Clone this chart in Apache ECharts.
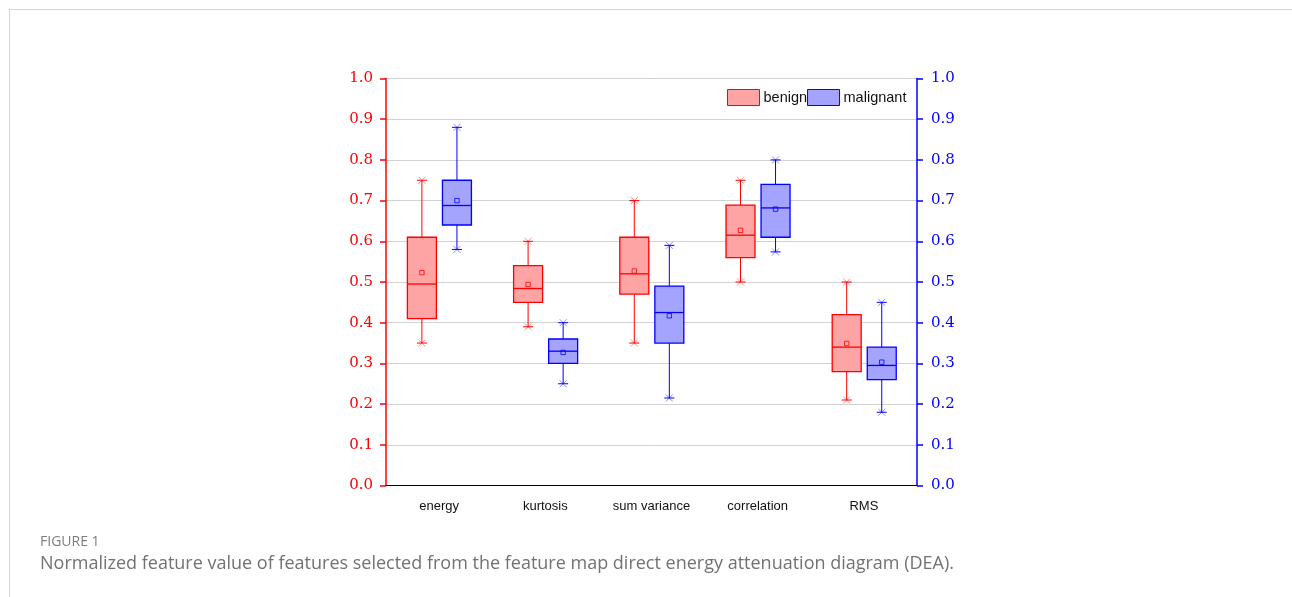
<!DOCTYPE html>
<html>
<head>
<meta charset="utf-8">
<script src="https://cdn.jsdelivr.net/npm/echarts@6/dist/echarts.min.js"></script>
<style>
  html, body { margin: 0; padding: 0; background: #fff; }
  #frame { position: absolute; left: 9px; top: 9px; width: 1290px; height: 600px;
           border-top: 1px solid #d4d4d4; border-left: 1px solid #d4d4d4; }
  #chart { position: absolute; left: 0; top: 0; width: 1292px; height: 597px; }
</style>
</head>
<body>
<div id="frame"></div>
<div id="chart"></div>
<script>
// Feature names along the x axis
const categories = ['energy', 'kurtosis', 'sum variance', 'correlation', 'RMS'];
const yTicks = [0, 0.1, 0.2, 0.3, 0.4, 0.5, 0.6, 0.7, 0.8, 0.9, 1.0];

// Benign group: whisker low, Q1, median, Q3, whisker high, mean
const benignMin    = [0.35, 0.39, 0.35, 0.50, 0.21];
const benignQ1     = [0.41, 0.45, 0.47, 0.56, 0.28];
const benignMedian = [0.495, 0.484, 0.52, 0.615, 0.34];
const benignQ3     = [0.61, 0.54, 0.61, 0.689, 0.42];
const benignMax    = [0.75, 0.60, 0.70, 0.75, 0.50];
const benignMean   = [0.523, 0.494, 0.527, 0.627, 0.349];

// Malignant group
const malignantMin    = [0.58, 0.25, 0.215, 0.574, 0.18];
const malignantQ1     = [0.64, 0.30, 0.35, 0.61, 0.26];
const malignantMedian = [0.688, 0.33, 0.425, 0.682, 0.295];
const malignantQ3     = [0.75, 0.36, 0.49, 0.74, 0.34];
const malignantMax    = [0.88, 0.40, 0.59, 0.80, 0.45];
const malignantMean   = [0.70, 0.327, 0.417, 0.679, 0.303];

function rows(mn, q1, md, q3, mx, mean) {
  return categories.map((c, i) => [i, mn[i], q1[i], md[i], q3[i], mx[i], mean[i]]);
}

function boxRenderer(offset, fill, stroke) {
  return function (params, api) {
    const band = api.size([1, 0])[0];
    const cx = api.coord([api.value(0), 0])[0] + offset * band;
    const w = band * 0.273;
    const y = v => api.coord([api.value(0), v])[1];
    const yMin = y(api.value(1)), yQ1 = y(api.value(2)), yMed = y(api.value(3));
    const yQ3 = y(api.value(4)), yMax = y(api.value(5)), yMean = y(api.value(6));
    const cap = 5, xm = 3.5, sq = 2.2;
    const line = { stroke: stroke, lineWidth: 1 };
    const faint = { stroke: stroke, lineWidth: 1, opacity: 0.45 };
    const children = [
      { type: 'line', shape: { x1: cx, y1: yMax, x2: cx, y2: yQ3 }, style: line },
      { type: 'line', shape: { x1: cx, y1: yQ1, x2: cx, y2: yMin }, style: line },
      { type: 'line', shape: { x1: cx - cap, y1: yMax, x2: cx + cap, y2: yMax }, style: line },
      { type: 'line', shape: { x1: cx - cap, y1: yMin, x2: cx + cap, y2: yMin }, style: line },
      { type: 'line', shape: { x1: cx - xm, y1: yMax - xm, x2: cx + xm, y2: yMax + xm }, style: faint },
      { type: 'line', shape: { x1: cx - xm, y1: yMax + xm, x2: cx + xm, y2: yMax - xm }, style: faint },
      { type: 'line', shape: { x1: cx - xm, y1: yMin - xm, x2: cx + xm, y2: yMin + xm }, style: faint },
      { type: 'line', shape: { x1: cx - xm, y1: yMin + xm, x2: cx + xm, y2: yMin - xm }, style: faint },
      { type: 'rect', shape: { x: cx - w / 2, y: yQ3, width: w, height: yQ1 - yQ3 },
        style: { fill: fill, stroke: stroke, lineWidth: 1.3 } },
      { type: 'line', shape: { x1: cx - w / 2, y1: yMed, x2: cx + w / 2, y2: yMed },
        style: { stroke: stroke, lineWidth: 1.3 } },
      { type: 'rect', shape: { x: cx - sq, y: yMean - sq, width: sq * 2, height: sq * 2 },
        style: { fill: 'none', stroke: stroke, lineWidth: 1, opacity: 0.8 } }
    ];
    return { type: 'group', children: children };
  };
}

const RED = '#ff0000', BLUE = '#0000ff';
const RED_FILL = '#ffa4a4', BLUE_FILL = '#a4a4ff';
const serif = 'DejaVu Serif';

const chart = echarts.init(document.getElementById('chart'), null, { renderer: 'canvas' });
chart.setOption({
  animation: false,
  grid: { left: 386, right: 375, top: 78.5, bottom: 111.5, containLabel: false },
  legend: {
    left: 727, top: 89, padding: 0, itemGap: 0, itemWidth: 32, itemHeight: 16,
    icon: 'rect',
    textStyle: { fontFamily: 'Liberation Sans', fontSize: 14.5, color: '#111', padding: [0, 0, 0, -1] },
    data: [
      { name: 'benign', itemStyle: { color: RED_FILL, borderColor: RED, borderWidth: 1 } },
      { name: 'malignant', itemStyle: { color: BLUE_FILL, borderColor: BLUE, borderWidth: 1 } }
    ]
  },
  xAxis: [
    {
      type: 'category', data: categories, position: 'bottom', boundaryGap: true,
      axisLine: { lineStyle: { color: '#000', width: 1 } },
      axisTick: { alignWithLabel: true, length: 5, lineStyle: { color: '#222' } },
      axisLabel: { fontFamily: 'Liberation Sans', fontSize: 13, color: '#111', margin: 14 },
      splitLine: { show: false }
    },
    {
      type: 'category', data: categories, position: 'top',
      axisLine: { lineStyle: { color: '#000', width: 1.2 } },
      axisTick: { show: false }, axisLabel: { show: false }, splitLine: { show: false }
    }
  ],
  yAxis: [
    {
      type: 'value', min: 0, max: 1, interval: 0.1, position: 'left',
      axisLine: { show: true, lineStyle: { color: RED, width: 1.5 } },
      axisTick: { show: true, inside: false, length: 6, lineStyle: { color: RED, width: 1.5 } },
      axisLabel: { fontFamily: serif, fontSize: 15, color: RED, margin: 13, padding: [7, 0, 0, 0],
                   formatter: v => v.toFixed(1) },
      splitLine: { show: true, lineStyle: { color: '#d2d2d2', width: 1 } }
    },
    {
      type: 'value', min: 0, max: 1, interval: 0.1, position: 'right',
      axisLine: { show: true, lineStyle: { color: BLUE, width: 1.5 } },
      axisTick: { show: true, inside: false, length: 6, lineStyle: { color: BLUE, width: 1.5 } },
      axisLabel: { fontFamily: serif, fontSize: 15, color: BLUE, margin: 14, padding: [7, 0, 0, 0],
                   formatter: v => v.toFixed(1) },
      splitLine: { show: false }
    }
  ],
  series: [
    {
      name: 'benign', type: 'custom', xAxisIndex: 0, yAxisIndex: 0,
      itemStyle: { color: RED_FILL, borderColor: RED },
      renderItem: boxRenderer(-0.162, RED_FILL, RED),
      encode: { x: 0, y: [1, 2, 3, 4, 5, 6] },
      data: rows(benignMin, benignQ1, benignMedian, benignQ3, benignMax, benignMean)
    },
    {
      name: 'malignant', type: 'custom', xAxisIndex: 0, yAxisIndex: 0,
      itemStyle: { color: BLUE_FILL, borderColor: BLUE },
      renderItem: boxRenderer(0.168, BLUE_FILL, BLUE),
      encode: { x: 0, y: [1, 2, 3, 4, 5, 6] },
      data: rows(malignantMin, malignantQ1, malignantMedian, malignantQ3, malignantMax, malignantMean)
    }
  ],
  graphic: [
    { type: 'text', left: 40, top: 535,
      style: { text: 'FIGURE 1', fontFamily: 'Open Sans', fontSize: 14, fill: '#7d7d7d' } },
    { type: 'text', left: 40, top: 555,
      style: { text: 'Normalized feature value of features selected from the feature map direct energy attenuation diagram (DEA).',
               fontFamily: 'Open Sans', fontSize: 18, fill: '#727272' } }
  ]
});
</script>
</body>
</html>
